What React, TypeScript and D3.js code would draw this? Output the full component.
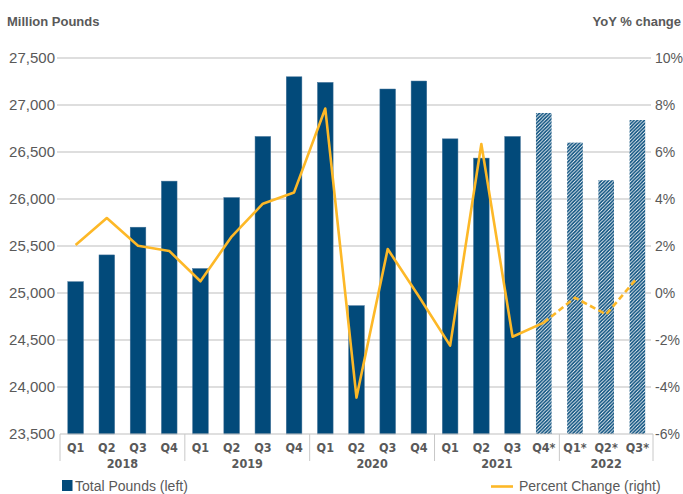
import * as d3 from 'd3';

const quarters = ['Q1', 'Q2', 'Q3', 'Q4', 'Q1', 'Q2', 'Q3', 'Q4', 'Q1', 'Q2', 'Q3', 'Q4', 'Q1', 'Q2', 'Q3', 'Q4*', 'Q1*', 'Q2*', 'Q3*'];
const years = ['2018', '2019', '2020', '2021', '2022'];
const yearSizes = [4, 4, 4, 4, 3];
// million pounds
const totalPounds = [25120, 25405, 25700, 26190, 25260, 26015, 26665, 27300, 27240, 24865, 27170, 27255, 26640, 26435, 26665, 26915, 26600, 26200, 26840];
// YoY % change
const pctChange = [2.04, 3.19, 2.01, 1.79, 0.5, 2.4, 3.8, 4.28, 7.85, -4.45, 1.87, -0.15, -2.24, 6.34, -1.86, -1.26, -0.2, -0.91, 0.65];
const forecastFrom = 15; // Q4* onwards are estimates
const leftTicks = [23500, 24000, 24500, 25000, 25500, 26000, 26500, 27000, 27500];
const rightTicks = [-6, -4, -2, 0, 2, 4, 6, 8, 10];

const W = 683;
const H = 494;
const NAVY = '#024a7a';
const GOLD = '#fdb827';
const TEXT = '#595959';
const SANS = "'Liberation Sans', Arial, sans-serif";
const NARROW = "'Liberation Sans Narrow', 'DejaVu Sans Condensed', sans-serif";

export default function App() {
  const idx = quarters.map((_, i) => i);
  const x = d3.scaleBand<number>().domain(idx).range([60, 653]).paddingInner(0.5).paddingOuter(0.25);
  const yL = d3.scaleLinear().domain([23500, 27500]).range([434, 58]);
  const yR = d3.scaleLinear().domain([-6, 10]).range([434, 58]);
  const cx = (i: number) => (x(i) ?? 0) + x.bandwidth() / 2;
  const edge = (i: number) => x.range()[0] + i * x.step();

  const line = d3.line<number>().x((i) => cx(i)).y((i) => yR(pctChange[i]));
  const solidPath = line(idx.slice(0, forecastFrom + 1)) ?? '';
  const dashPath = line(idx.slice(forecastFrom)) ?? '';

  const starts = yearSizes.map((_, k) => d3.sum(yearSizes.slice(0, k)));

  return (
    <svg width={W} height={H} style={{ position: 'absolute', left: 0, top: 0 }}>
      <defs>
        <pattern id="hatch" patternUnits="userSpaceOnUse" width={3.5} height={3.5}>
          <rect width={3.5} height={3.5} fill={NAVY} />
          <path d="M-0.875,0.875 l1.75,-1.75 M0,3.5 l3.5,-3.5 M2.625,4.375 l1.75,-1.75" stroke="#fff" strokeWidth={0.9} />
        </pattern>
      </defs>
      <rect width={W} height={H} fill="#fff" />

      <text x={7} y={26} fontFamily={SANS} fontSize={13} fontWeight="bold" fill={TEXT}>Million Pounds</text>
      <text x={681} y={26} fontFamily={SANS} fontSize={13} fontWeight="bold" fill={TEXT} textAnchor="end">YoY % change</text>

      {leftTicks.map((t) => (
        <g key={t}>
          {t > 23500 && <line x1={57} x2={651} y1={yL(t)} y2={yL(t)} stroke="#d3d3d3" strokeWidth={1.5} />}
          <text x={55} y={yL(t)} dy="0.36em" textAnchor="end" fontFamily={SANS} fontSize={15} fill={TEXT}>
            {d3.format(',')(t)}
          </text>
        </g>
      ))}
      {rightTicks.map((t) => (
        <text key={t} x={655} y={yR(t)} dy="0.36em" fontFamily={SANS} fontSize={14} fill={TEXT}>
          {`${t}%`}
        </text>
      ))}

      {totalPounds.map((v, i) => (
        <rect
          key={i}
          x={x(i)}
          y={yL(v)}
          width={x.bandwidth()}
          height={yL(23500) - yL(v)}
          fill={i >= forecastFrom ? 'url(#hatch)' : NAVY}
          stroke={i >= forecastFrom ? 'none' : '#3f6f96'}
          strokeWidth={0.5}
        />
      ))}

      <line x1={60} x2={653} y1={434} y2={434} stroke="#bfbfbf" strokeWidth={1} />
      {starts.concat([quarters.length]).map((s) => (
        <line key={s} x1={edge(s)} x2={edge(s)} y1={434} y2={461} stroke="#c8c8c8" strokeWidth={1} />
      ))}
      {quarters.map((q, i) => (
        <text key={i} x={cx(i)} y={452} textAnchor="middle" fontFamily={NARROW} fontSize={12.5} fontWeight="bold" fill={TEXT}>
          {q}
        </text>
      ))}
      {years.map((yr, k) => (
        <text
          key={yr}
          x={(edge(starts[k]) + edge(starts[k] + yearSizes[k])) / 2}
          y={468}
          textAnchor="middle"
          fontFamily={NARROW}
          fontSize={12.5}
          fontWeight="bold"
          fill={TEXT}
        >
          {yr}
        </text>
      ))}

      <path d={solidPath} fill="none" stroke={GOLD} strokeWidth={2.6} strokeLinejoin="round" />
      <path d={dashPath} fill="none" stroke={GOLD} strokeWidth={2.6} strokeDasharray="6,3.5" />

      <rect x={62} y={480} width={10.5} height={11} fill={NAVY} />
      <text x={75} y={491} fontFamily={SANS} fontSize={14} fill={TEXT}>Total Pounds (left)</text>
      <line x1={491} x2={513} y1={486.5} y2={486.5} stroke={GOLD} strokeWidth={2.6} />
      <text x={519} y={491} fontFamily={SANS} fontSize={14} fill={TEXT}>Percent Change (right)</text>
    </svg>
  );
}
